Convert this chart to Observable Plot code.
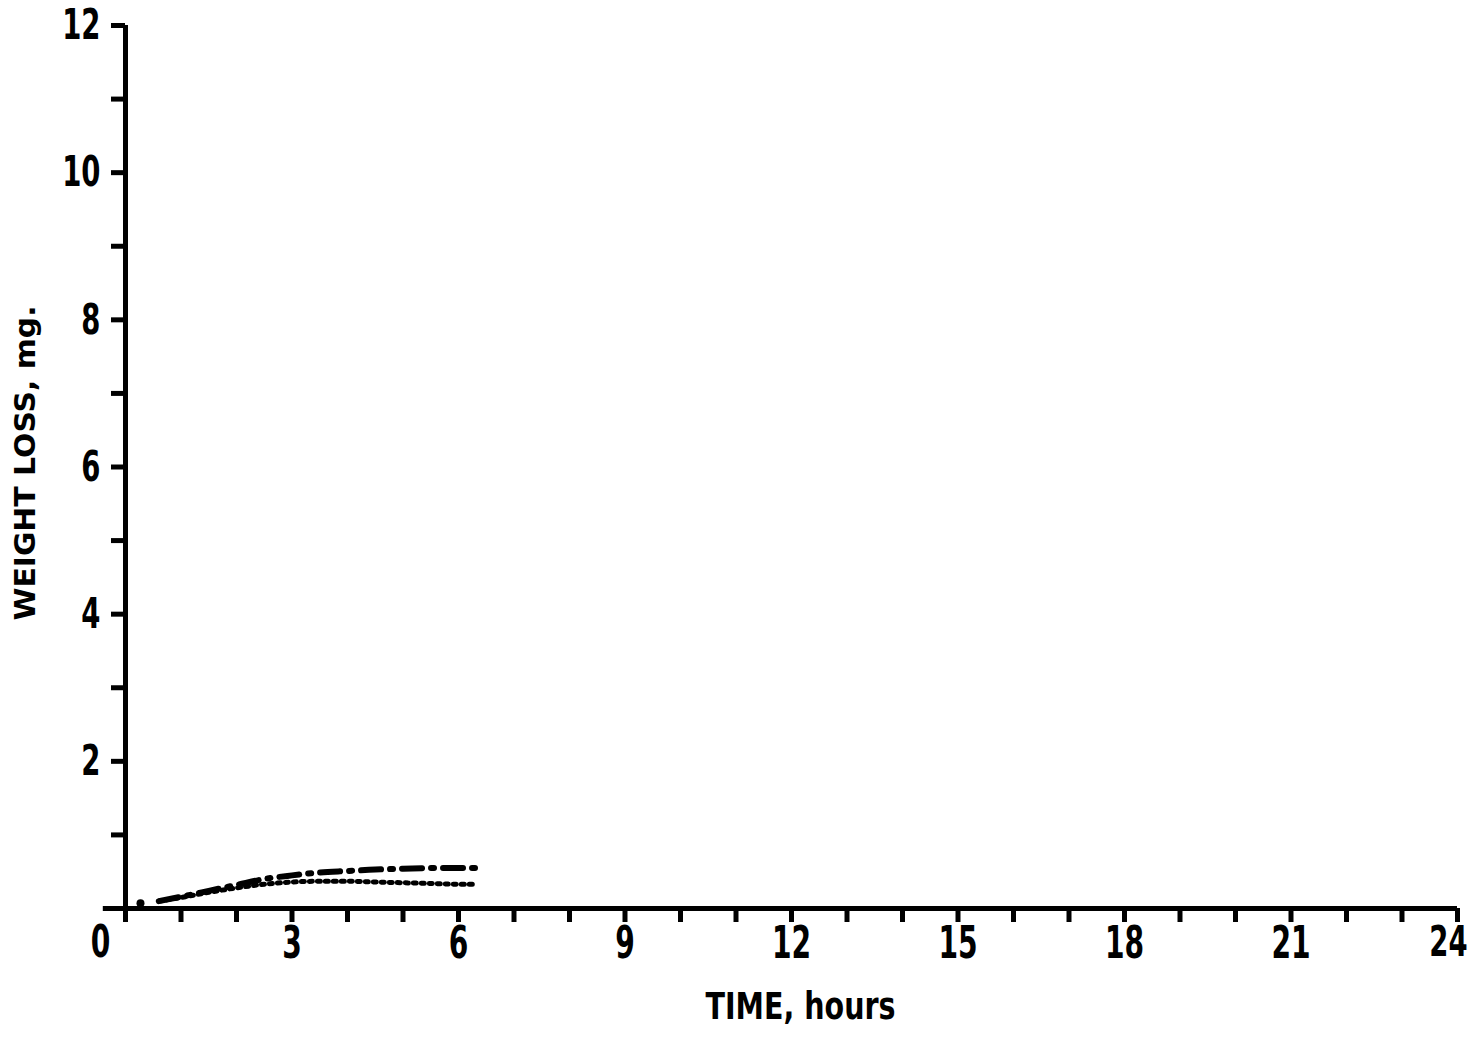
<!DOCTYPE html>
<html>
<head>
<meta charset="utf-8">
<script src="https://cdn.jsdelivr.net/npm/d3@7"></script>
<script src="https://cdn.jsdelivr.net/npm/@observablehq/plot@0.6"></script>
<style>
html,body{margin:0;padding:0;background:#fff;}
svg{display:block;}
</style>
</head>
<body>
<div id="chart"></div>
<script>
// Series
const upperHours = [0.6, 1.0, 1.5, 2.0, 2.5, 3.0, 3.5, 4.0, 4.5, 5.0, 5.5, 6.0, 6.3];
const upperLoss  = [0.10, 0.16, 0.24, 0.32, 0.40, 0.45, 0.49, 0.51, 0.53, 0.54, 0.55, 0.55, 0.55];
const lowerHours = [0.6, 1.0, 1.5, 2.0, 2.5, 3.0, 3.5, 4.0, 4.5, 5.0, 5.5, 6.0, 6.3];
const lowerLoss  = [0.10, 0.15, 0.22, 0.28, 0.33, 0.36, 0.37, 0.37, 0.36, 0.35, 0.34, 0.33, 0.33];
const startHours = [0.27];
const startLoss  = [0.07];

const xMinorTicks = d3.range(0, 25, 1);
const xLabelTicks = [3, 6, 9, 12, 15, 18, 21];
const xLastTick = [24];
const yMinorTicks = d3.range(0, 13, 1);
const yLabelTicks = [2, 4, 6, 8, 10, 12];
const originLabel = ["0"];
const xTitle = "TIME, hours";
const yTitle = "WEIGHT LOSS, mg.";

const upper = upperHours.map((h, i) => ({h, v: upperLoss[i]}));
const lower = lowerHours.map((h, i) => ({h, v: lowerLoss[i]}));
const start = startHours.map((h, i) => ({h, v: startLoss[i]}));

const font = "'DejaVu Sans', sans-serif";

const chart = Plot.plot({
  width: 1479,
  height: 1037,
  marginLeft: 125,
  marginRight: 22,
  marginTop: 25,
  marginBottom: 129,
  style: {fontFamily: font, fontWeight: "bold", background: "#fff", color: "#000"},
  x: {domain: [0, 24]},
  y: {domain: [0, 12]},
  marks: [
    // x ticks
    Plot.axisX({ticks: xMinorTicks, tickSize: 14, tickFormat: () => "", strokeWidth: 5, label: null}),
    Plot.axisX({ticks: xLabelTicks, tickSize: 0, tickPadding: 18, fontSize: 44, fontWeight: "bold", label: null}),
    Plot.text(xLastTick, {x: d => d, y: 0, text: d => String(d), dx: -9, dy: 34, fontSize: 43, fontWeight: "bold"}),
    // y ticks
    Plot.axisY({ticks: yMinorTicks, tickSize: 14, tickFormat: () => "", strokeWidth: 5, label: null}),
    Plot.axisY({ticks: yLabelTicks, tickSize: 0, tickPadding: 25, fontSize: 43, fontWeight: "bold", label: null}),
    Plot.text(originLabel, {x: 0, y: 0, text: d => d, dx: -25, dy: 34, fontSize: 44, fontWeight: "bold"}),
    // axis lines
    Plot.ruleY([0], {x1: -0.4, x2: 24, strokeWidth: 5}),
    Plot.ruleX([0], {y1: -0.1, y2: 12, strokeWidth: 5}),
    // curves
    Plot.line(upper, {x: "h", y: "v", curve: "monotone-x", strokeWidth: 6, strokeDasharray: "20,9,3,9", strokeLinecap: "round"}),
    Plot.line(lower, {x: "h", y: "v", curve: "monotone-x", strokeWidth: 5, strokeDasharray: "3,5", strokeLinecap: "round"}),
    Plot.dot(start, {x: "h", y: "v", r: 4, fill: "#000"}),
    // axis titles
    Plot.text([xTitle], {frameAnchor: "bottom", dx: 9, dy: 110, fontSize: 37, fontWeight: "bold"}),
    Plot.text([yTitle], {frameAnchor: "left", textAnchor: "middle", dx: -99, dy: -4, rotate: -90, fontSize: 28, fontWeight: "bold"})
  ]
});
document.getElementById("chart").appendChild(chart);

// Condense the glyphs like the original's narrow typeface
chart.querySelectorAll("text").forEach(t => {
  const s = t.textContent;
  const len = t.getComputedTextLength();
  if (!len) return;
  let target;
  if (s === xTitle) target = 190;
  else if (s === yTitle) target = 315;
  else target = len * 0.64;
  t.setAttribute("textLength", target);
  t.setAttribute("lengthAdjust", "spacingAndGlyphs");
});
</script>
</body>
</html>
